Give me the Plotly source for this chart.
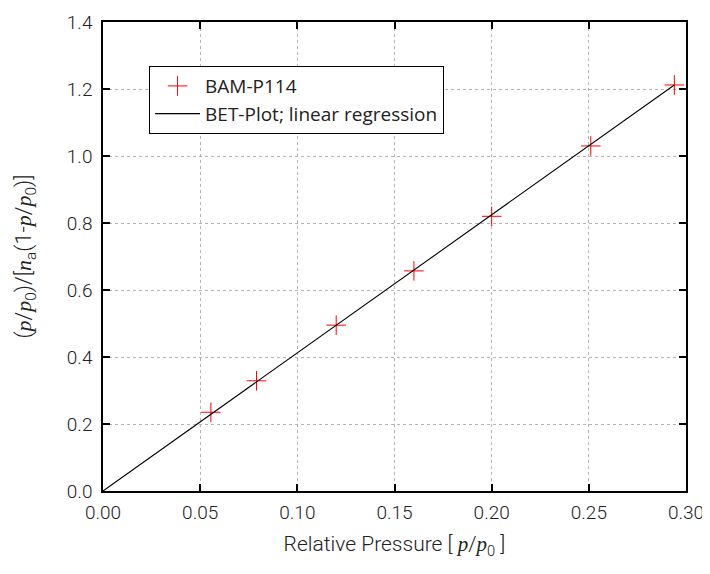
import plotly.graph_objects as go

# BET data
rel_pressure = [0.0555, 0.079, 0.120, 0.160, 0.200, 0.251, 0.294]
bet_value = [0.235, 0.329, 0.495, 0.657, 0.820, 1.030, 1.212]

# linear regression line (end points)
fit_x = [0.0, 0.294]
fit_y = [0.0, 1.212]

x_ticks = [0.00, 0.05, 0.10, 0.15, 0.20, 0.25, 0.30]
y_ticks = [0.0, 0.2, 0.4, 0.6, 0.8, 1.0, 1.2, 1.4]

SERIF = "<span style=\"font-family:'Liberation Serif'\"><i>%s</i></span>"
p = SERIF % "p"
n = SERIF % "n"

fig = go.Figure()

fig.add_trace(go.Scatter(
    x=rel_pressure, y=bet_value,
    mode="markers",
    name="BAM-P114",
    marker=dict(symbol="cross-thin", size=14, color="red",
                line=dict(color="red", width=1)),
))

fig.add_trace(go.Scatter(
    x=fit_x, y=fit_y,
    mode="lines",
    name="BET-Plot; linear regression",
    line=dict(color="black", width=1.1),
))

axis_common = dict(
    showline=True, linecolor="black", linewidth=1.5, mirror="ticks",
    ticks="inside", ticklen=7, tickwidth=1.5, tickcolor="black",
    showgrid=True, gridcolor="#b4b4b4", griddash="dot", gridwidth=1,
    zeroline=False, automargin=False,
    tickfont=dict(size=19, color="#222"),
)

fig.update_xaxes(
    range=[0, 0.30], tickvals=x_ticks, tickformat=".2f",
    ticklabelstandoff=3,
    title=dict(text=f"Relative Pressure [ {p}/{p}<sub>0</sub> ]",
               font=dict(size=21, color="#222"), standoff=14),
    **axis_common,
)
fig.update_yaxes(
    range=[0, 1.4], tickvals=y_ticks, tickformat=".1f",
    ticklabelstandoff=5,
    title=dict(text=f"({p}/{p}<sub>0</sub>)/[{n}<sub>a</sub>(1-{p}/{p}<sub>0</sub>)]",
               font=dict(size=22, color="#222"), standoff=29),
    **axis_common,
)

fig.update_layout(
    width=710, height=574,
    margin=dict(l=95, r=32, t=14, b=91),
    paper_bgcolor="white", plot_bgcolor="white",
    font=dict(family="Roboto", size=19, color="#222", weight=300),
    legend=dict(
        x=0.079, y=0.906, xanchor="left", yanchor="top",
        bgcolor="white", bordercolor="black", borderwidth=1,
        font=dict(family="Open Sans", size=19, weight=400),
        itemwidth=45,
        tracegroupgap=0,
    ),
)

fig.write_html("out.html")
